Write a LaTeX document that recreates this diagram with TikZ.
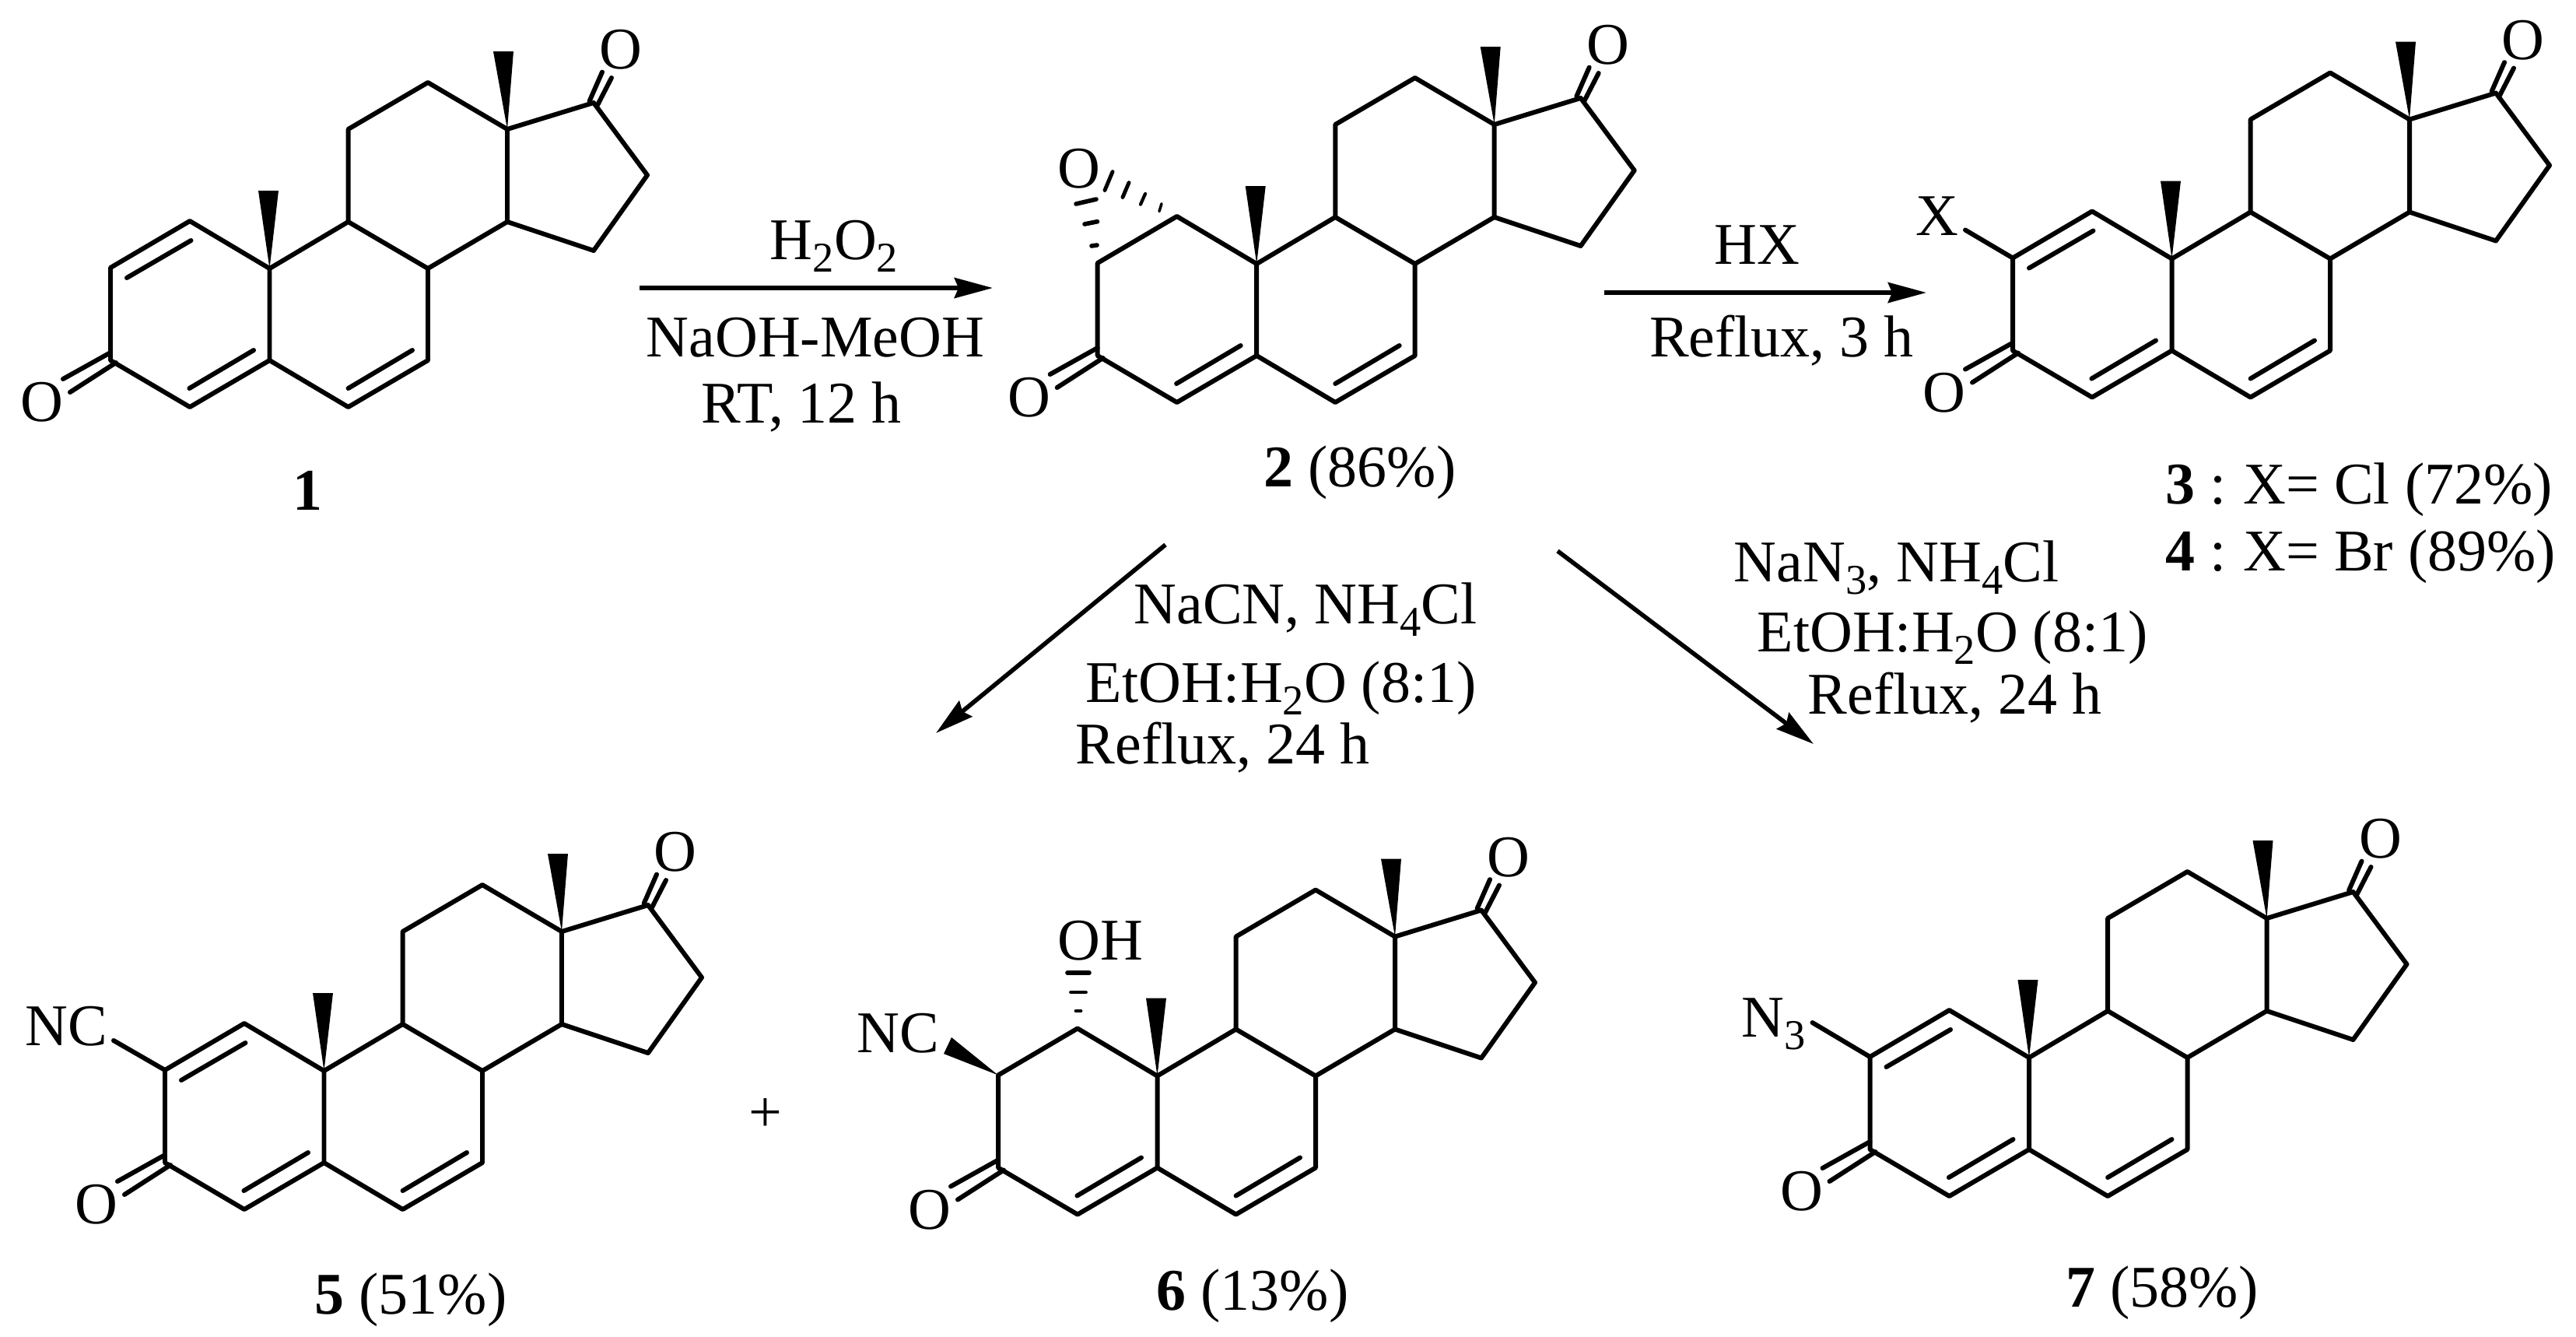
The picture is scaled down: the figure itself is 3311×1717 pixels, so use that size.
\documentclass[tikz,border=0pt]{standalone}
\usepackage{fontspec}
\setmainfont{Liberation Serif}
\usetikzlibrary{arrows.meta}
\newcommand{\subs}[1]{\raisebox{-4.8pt}{\fontsize{15.5}{15.5}\selectfont #1}}
\tikzset{
    bond/.style={line width=1.7pt,line join=round,line cap=round},
    hash/.style={line width=1.4pt,line cap=round},
    rxn/.style={line width=1.6pt,-{Stealth[length=14pt,width=7.4pt,inset=1.5pt]}},
    atom/.style={inner sep=0pt,font=\fontsize{21.6}{26}\selectfont},
    txt/.style={inner sep=0pt,anchor=base,font=\fontsize{21.6}{26}\selectfont}
}
\newcommand{\steroidcore}{
    \coordinate (c1) at (244,284);
    \coordinate (c2) at (142,344);
    \coordinate (c3) at (142,463);
    \coordinate (c4) at (244,523);
    \coordinate (c5) at (346.5,463);
    \coordinate (c6) at (447.6,523);
    \coordinate (c7) at (550,463);
    \coordinate (c8) at (550,345);
    \coordinate (c9) at (447.6,285);
    \coordinate (c10) at (346.5,345);
    \coordinate (c11) at (447.6,166);
    \coordinate (c12) at (550,106);
    \coordinate (c13) at (652,166);
    \coordinate (c14) at (652,285);
    \coordinate (c15) at (763,322);
    \coordinate (c16) at (832,225);
    \coordinate (c17) at (763,132);
    \draw[bond] (c1)--(c2)--(c3)--(c4)--(c5)--(c10)--cycle;
    \draw[bond] (c5)--(c6)--(c7)--(c8)--(c9)--(c10);
    \draw[bond] (c9)--(c11)--(c12)--(c13)--(c14)--(c8);
    \draw[bond] (c14)--(c15)--(c16)--(c17)--(c13);
    % inner lines of the double bonds
    \draw[bond] (243.4,499)--(326,450);
    \draw[bond] (447.6,499)--(530,450);
    \draw[bond] (142,453)--(81,487);
    \draw[bond] (149,466)--(90,504);
    \draw[bond] (757.6,130)--(774,92.6);
    \draw[bond] (768,135)--(786,100);
    % methyl wedges
    \fill (c13)--(634,66)--(660,66)--cycle;
    \fill (c10)--(332,245)--(358,245)--cycle;
    \node[atom] (oa) at (54,517) {O};
    \node[atom] (ob) at (798,64) {O};
}
\newcommand{\ringdouble}{
    \draw[bond] (245.5,309)--(163,357);
}
\begin{document}
\begin{tikzpicture}[x=0.01cm,y=-0.01cm]
    \useasboundingbox (0,0) rectangle (3311,1717);
    % compound 1
    \begin{scope}
        \steroidcore
        \ringdouble
    \end{scope}
    \node[txt] (lab1) at (395,655) {\textbf{1}};
    % compound 2
    \begin{scope}[shift={(1268.7,-6)}]
        \steroidcore
    \end{scope}
    \node[atom] (epo) at (1387,217) {O};
    \draw[hash,line width=1pt] (1490,271.6)--(1493,261.7);
    \draw[hash,line width=1.2pt] (1466,262.6)--(1472,249);
    \draw[hash] (1443,253.5)--(1451,234.7);
    \draw[hash] (1420,244.5)--(1430,220.7);
    \draw[hash,line width=1.6pt] (1403,316)--(1410,315);
    \draw[hash,line width=1.6pt] (1394,288)--(1410.5,284.7);
    \draw[hash,line width=1.6pt] (1383,262)--(1409,256);
    \node[txt] (lab2) at (1748,625.6) {\textbf{2} (86\%)};
    % compound 3 and 4
    \begin{scope}[shift={(2445,-12.5)}]
        \steroidcore
        \ringdouble
        \draw[bond] (c2)--(81,308);
        \node[atom] (xs) at (45,290.5) {X};
    \end{scope}
    \node[txt,anchor=base west] (lab3) at (2783,647) {\textbf{3} :\kern-1pt{} X= Cl (72\%)};
    \node[txt,anchor=base west] (lab4) at (2783,733) {\textbf{4} :\kern-1pt{} X= Br (89\%)};
    % compound 5
    \begin{scope}[shift={(70,1031)}]
        \steroidcore
        \ringdouble
        \draw[bond] (c2)--(76,306);
        \node[atom] (nca) at (15,288) {NC};
    \end{scope}
    \node[txt] (lab5) at (528,1688) {\textbf{5} (51\%)};
    \node[atom] (plus) at (984,1433.5) {+};
    % compound 6
    \begin{scope}[shift={(1141,1037.5)}]
        \steroidcore
        \fill (c2)--(72,316.5)--(82,295.5)--cycle;
        \node[atom] (ncb) at (13,290.5) {NC};
        \node[atom] (oh) at (273,171.5) {OH};
        \draw[hash,line width=1.4pt] (242,261.5)--(248,261.5);
        \draw[hash,line width=1.4pt] (235.5,237.5)--(254.5,237.5);
        \draw[hash,line width=1.6pt] (231,212.5)--(259,212.5);
    \end{scope}
    \node[txt] (lab6) at (1610,1683) {\textbf{6} (13\%)};
    % compound 7
    \begin{scope}[shift={(2261.5,1014)}]
        \steroidcore
        \ringdouble
        \draw[bond] (c2)--(68,300);
        \node[txt,anchor=base west] (nta) at (-24,318) {N\subs{3}};
    \end{scope}
    \node[txt] (lab7) at (2779,1679) {\textbf{7} (58\%)};
    % arrows
    \coordinate (a1) at (822,370);
    \coordinate (b1) at (1276,370);
    \coordinate (a2) at (2062,376);
    \coordinate (b2) at (2476,376);
    \coordinate (a3) at (1498,700);
    \coordinate (b3) at (1203,942);
    \coordinate (a4) at (2002,708);
    \coordinate (b4) at (2331,956);
    \draw[rxn] (a1)--(b1);
    \draw[rxn] (a2)--(b2);
    \draw[rxn] (a3)--(b3);
    \draw[rxn] (a4)--(b4);
    % reagents
    \node[txt] (r1) at (1072,333) {H\subs{2}O\subs{2}};
    \node[txt] (r2) at (1048,458) {NaOH-MeOH};
    \node[txt] (r3) at (1030,543) {RT, 12 h};
    \node[txt] (r4) at (2258,339) {HX};
    \node[txt] (r5) at (2290,458) {Reflux, 3 h};
    \node[txt,anchor=base west] (r6) at (2228,747) {NaN\subs{3}, NH\subs{4}Cl};
    \node[txt,anchor=base west] (r7) at (2258,837) {EtOH:H\subs{2}O (8:1)};
    \node[txt,anchor=base west] (r8) at (2323,917) {Reflux, 24 h};
    \node[txt,anchor=base west] (r9) at (1457,801) {NaCN, NH\subs{4}Cl};
    \node[txt,anchor=base west] (r10) at (1395,902) {EtOH:H\subs{2}O (8:1)};
    \node[txt,anchor=base west] (r11) at (1382,981) {Reflux, 24 h};
\end{tikzpicture}
\end{document}
